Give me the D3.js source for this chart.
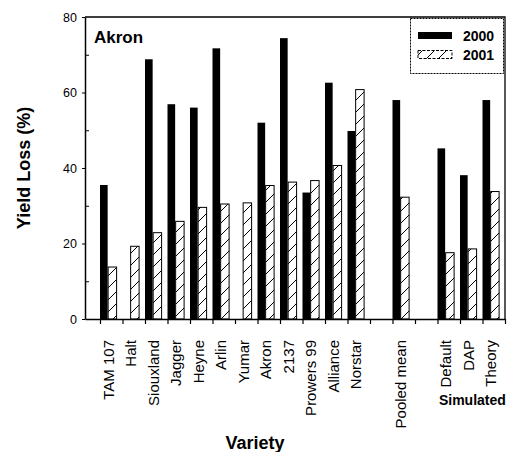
<!DOCTYPE html>
<html>
<head>
<meta charset="utf-8">
<script src="https://cdn.jsdelivr.net/npm/d3@7"></script>
<style>
  body { margin: 0; background: #fff; }
  text { font-family: "Liberation Sans", Arial, sans-serif; fill: #000; }
</style>
</head>
<body>
<svg id="chart"></svg>
<script>
// Data ("" = empty slot on the axis)
const varieties = ["TAM 107", "Halt", "Siouxland", "Jagger", "Heyne", "Arlin", "Yumar", "Akron", "2137",
    "Prowers 99", "Alliance", "Norstar", "", "Pooled mean", "", "Default", "DAP", "Theory"];
const loss2000 = [35.5, null, 68.8, 56.9, 56.0, 71.7, null, 52.0, 74.4, 33.5, 62.6, 49.8, null, 58.0, null, 45.2, 38.1, 58.0];
const loss2001 = [13.9, 19.4, 23.0, 26.0, 29.7, 30.6, 30.9, 35.5, 36.4, 36.8, 40.8, 60.9, null, 32.4, null, 17.7, 18.7, 33.9];
const years = ["2000", "2001"];
const yMajor = [0, 20, 40, 60, 80];
const yMinor = [10, 30, 50, 70];

// Declare the chart dimensions
const width = 507;
const height = 452;
const plotLeft = 85, plotRight = 505, plotTop = 17, plotBottom = 319;

const svg = d3.select("#chart")
    .attr("width", width)
    .attr("height", height);

// Scales
const x = d3.scaleLinear()
    .domain([-2 / 3, varieties.length])
    .range([plotLeft, plotRight]);
const y = d3.scaleLinear()
    .domain([0, 80])
    .range([plotBottom, plotTop]);

const step = x(1) - x(0);
const blackW = step * 0.34;
const hatchW = step * 0.42;

// hatch pattern for 2001
const defs = svg.append("defs");
defs.append("pattern")
    .attr("id", "hatch")
    .attr("patternUnits", "userSpaceOnUse")
    .attr("width", 12)
    .attr("height", 12)
    .append("path")
    .attr("d", "M-3,3 L3,-3 M0,12 L12,0 M9,15 L15,9")
    .attr("stroke", "#000")
    .attr("stroke-width", 1);

// 2000 bars
svg.append("g")
    .selectAll("rect")
    .data(loss2000.map((v, i) => ({ v, i })).filter(d => d.v != null))
    .enter()
    .append("rect")
    .attr("x", d => x(d.i))
    .attr("y", d => y(d.v))
    .attr("width", blackW)
    .attr("height", d => y(0) - y(d.v))
    .attr("fill", "#000");

// 2001 bars
svg.append("g")
    .selectAll("rect")
    .data(loss2001.map((v, i) => ({ v, i })).filter(d => d.v != null))
    .enter()
    .append("rect")
    .attr("x", d => x(d.i) + blackW + 0.5)
    .attr("y", d => y(d.v) + 0.5)
    .attr("width", hatchW - 1)
    .attr("height", d => y(0) - y(d.v) - 0.5)
    .attr("fill", "url(#hatch)")
    .attr("stroke", "#000")
    .attr("stroke-width", 1);

// Frame top/right
svg.append("path")
    .attr("d", `M${plotLeft},${plotTop}H${plotRight}V${plotBottom}`)
    .attr("fill", "none")
    .attr("stroke", "#000")
    .attr("stroke-width", 1.3);

// x axis
const xAxis = d3.axisBottom(x)
    .tickValues(d3.range(varieties.length + 1))
    .tickFormat("")
    .tickSize(5)
    .tickSizeOuter(0);
svg.append("g")
    .attr("transform", `translate(0, ${plotBottom})`)
    .call(xAxis)
    .call(g => g.select(".domain").attr("stroke-width", 1.5))
    .call(g => g.selectAll(".tick line").attr("stroke-width", 1.2));

// y axis
const yAxis = d3.axisLeft(y)
    .tickValues(yMajor)
    .tickSize(3)
    .tickSizeOuter(0)
    .tickPadding(5);
svg.append("g")
    .attr("transform", `translate(${plotLeft}, 0)`)
    .call(yAxis)
    .call(g => g.select(".domain").attr("stroke-width", 1.5))
    .call(g => g.selectAll(".tick text")
        .attr("font-size", 12.5)
        .style("font-family", "'Liberation Sans', Arial, sans-serif"));
svg.append("g")
    .attr("transform", `translate(${plotLeft}, 0)`)
    .call(d3.axisRight(y).tickValues(yMinor).tickSize(4).tickFormat(""))
    .call(g => g.select(".domain").remove());

// variety labels
svg.append("g")
    .selectAll("text")
    .data(varieties.map((name, i) => ({ name, i })).filter(d => d.name !== ""))
    .enter()
    .append("text")
    .attr("transform", d => `translate(${x(d.i) + step * 0.38}, 340) rotate(-90)`)
    .attr("text-anchor", "end")
    .attr("dy", "0.35em")
    .attr("font-size", 15)
    .text(d => d.name);

svg.append("text")
    .attr("x", x(16) + step * 0.55)
    .attr("y", 405)
    .attr("text-anchor", "middle")
    .attr("font-size", 14)
    .attr("font-weight", "bold")
    .text("Simulated");

// axis titles
svg.append("text")
    .attr("x", 255)
    .attr("y", 449)
    .attr("text-anchor", "middle")
    .attr("font-size", 18)
    .attr("font-weight", "bold")
    .text("Variety");

svg.append("text")
    .attr("transform", `translate(30, ${(plotTop + plotBottom) / 2}) rotate(-90)`)
    .attr("text-anchor", "middle")
    .attr("font-size", 18)
    .attr("font-weight", "bold")
    .text("Yield Loss (%)");

// site label
svg.append("text")
    .attr("x", 94)
    .attr("y", 43)
    .attr("font-size", 17)
    .attr("font-weight", "bold")
    .text("Akron");

// legend
const legend = svg.append("g");
legend.append("rect")
    .attr("x", 410.5)
    .attr("y", 18.5)
    .attr("width", 93)
    .attr("height", 55)
    .attr("fill", "#fff")
    .attr("stroke", "#000")
    .attr("stroke-width", 1)
    .attr("stroke-dasharray", "2,1");

const legendRows = legend.selectAll("g.row")
    .data(years)
    .enter()
    .append("g")
    .attr("class", "row")
    .attr("transform", (d, i) => `translate(418, ${36 + i * 19})`);

legendRows.append("rect")
    .attr("x", 0)
    .attr("y", (d, i) => i === 0 ? -4 : -4.5)
    .attr("width", 34)
    .attr("height", (d, i) => i === 0 ? 7 : 8)
    .attr("fill", (d, i) => i === 0 ? "#000" : "url(#hatch)")
    .attr("stroke", "#000")
    .attr("stroke-width", (d, i) => i === 0 ? 0 : 1)
    .attr("stroke-dasharray", (d, i) => i === 0 ? null : "3,1.5");

legendRows.append("text")
    .attr("x", 45)
    .attr("y", 5)
    .attr("font-size", 14)
    .attr("font-weight", "bold")
    .text(d => d);
</script>
</body>
</html>
